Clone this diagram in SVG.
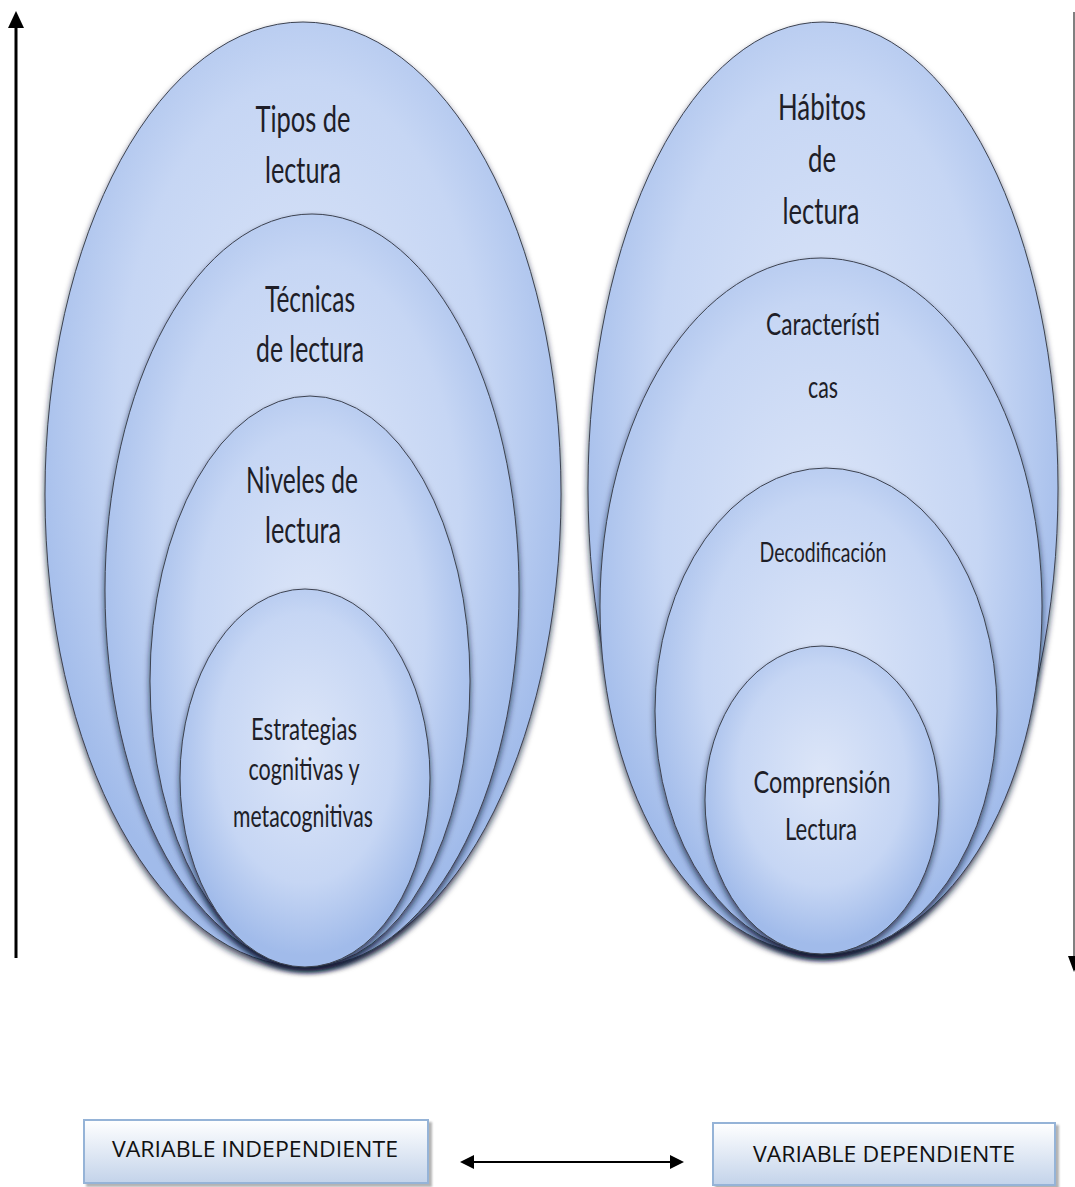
<svg xmlns="http://www.w3.org/2000/svg" width="1075" height="1187" viewBox="0 0 1075 1187">
<defs>
<radialGradient id="eg" cx="50%" cy="42%" r="55%">
<stop offset="0" stop-color="#dde6f8"/>
<stop offset="0.65" stop-color="#c6d6f4"/>
<stop offset="1" stop-color="#a1bbea"/>
</radialGradient>
<linearGradient id="bg" x1="0" y1="0" x2="0" y2="1">
<stop offset="0" stop-color="#ffffff"/>
<stop offset="1" stop-color="#c3d3ea"/>
</linearGradient>
<filter id="sh" x="-10%" y="-10%" width="120%" height="125%">
<feDropShadow dx="0" dy="4" stdDeviation="3" flood-color="#101c38" flood-opacity="0.75"/>
</filter>
<filter id="bsh" x="-5%" y="-10%" width="110%" height="130%">
<feDropShadow dx="3" dy="3" stdDeviation="1" flood-color="#808080" flood-opacity="0.6"/>
</filter>
</defs>
<style>
.ell{fill:url(#eg);stroke:#3c4250;stroke-width:1;filter:url(#sh)}
.t{font-family:Lato,"Open Sans","Liberation Sans",sans-serif;fill:#1e1e28;text-anchor:middle}
.big{font-size:36px}
.mid{font-size:31px}
.sm{font-size:27px}
.box{fill:url(#bg);stroke:#95b3d7;stroke-width:2;filter:url(#bsh)}
.bt{font-family:"Open Sans",Lato,"Liberation Sans",sans-serif;font-size:21px;fill:#111;text-anchor:middle}
</style>

<g id="left-outer"><ellipse class="ell" cx="303" cy="494" rx="258" ry="472"/>
<text class="t big" x="303" y="132" textLength="95" lengthAdjust="spacingAndGlyphs">Tipos de</text>
<text class="t big" x="303" y="183" textLength="76" lengthAdjust="spacingAndGlyphs">lectura</text></g>
<g id="left-2"><ellipse class="ell" cx="312" cy="590" rx="207" ry="376"/>
<text class="t big" x="310" y="312" textLength="90" lengthAdjust="spacingAndGlyphs">Técnicas</text>
<text class="t big" x="310" y="362" textLength="108" lengthAdjust="spacingAndGlyphs">de lectura</text></g>
<g id="left-3"><ellipse class="ell" cx="310" cy="681" rx="160" ry="285"/>
<text class="t big" x="302" y="493" textLength="112" lengthAdjust="spacingAndGlyphs">Niveles de</text>
<text class="t big" x="303" y="543" textLength="76" lengthAdjust="spacingAndGlyphs">lectura</text></g>
<g id="left-4"><ellipse class="ell" cx="305" cy="778" rx="125" ry="189"/>
<text class="t mid" x="304" y="740" textLength="106" lengthAdjust="spacingAndGlyphs">Estrategias</text>
<text class="t mid" x="304" y="780" textLength="111" lengthAdjust="spacingAndGlyphs">cognitivas y</text>
<text class="t mid" x="303" y="827" textLength="140" lengthAdjust="spacingAndGlyphs">metacognitivas</text></g>

<g id="right-outer"><ellipse class="ell" cx="823" cy="488" rx="235" ry="466"/>
<text class="t big" x="822" y="120" textLength="88" lengthAdjust="spacingAndGlyphs">Hábitos</text>
<text class="t big" x="822" y="172" textLength="28" lengthAdjust="spacingAndGlyphs">de</text>
<text class="t big" x="821" y="224" textLength="77" lengthAdjust="spacingAndGlyphs">lectura</text></g>
<g id="right-2"><ellipse class="ell" cx="821" cy="606" rx="221" ry="348"/>
<text class="t mid" x="823" y="335" textLength="114" lengthAdjust="spacingAndGlyphs">Característi</text>
<text class="t mid" x="823" y="398" textLength="30" lengthAdjust="spacingAndGlyphs">cas</text></g>
<g id="right-3"><ellipse class="ell" cx="826" cy="711" rx="171" ry="243"/>
<text class="t sm" x="823" y="562" textLength="127" lengthAdjust="spacingAndGlyphs">Decodificación</text></g>
<g id="right-4"><ellipse class="ell" cx="822" cy="800" rx="117" ry="154"/>
<text class="t mid" x="822" y="793" textLength="137" lengthAdjust="spacingAndGlyphs">Comprensión</text>
<text class="t mid" x="821" y="840" textLength="72" lengthAdjust="spacingAndGlyphs">Lectura</text></g>

<g id="box-independiente"><rect class="box" x="84" y="1120" width="344" height="63"/>
<text class="bt" x="255" y="1157" textLength="286" lengthAdjust="spacingAndGlyphs">VARIABLE INDEPENDIENTE</text></g>
<g id="box-dependiente"><rect class="box" x="713" y="1123" width="342" height="62"/>
<text class="bt" x="884" y="1162" textLength="262" lengthAdjust="spacingAndGlyphs">VARIABLE DEPENDIENTE</text></g>

<g id="connectors">
<line x1="16" y1="958" x2="16" y2="26" stroke="#000" stroke-width="3"/>
<path d="M16,11 L8,28 L24,28 Z" fill="#000"/>
<line x1="1074" y1="12" x2="1074" y2="958" stroke="#808080" stroke-width="2"/>
<path d="M1068,956 L1080,956 L1074,972 Z" fill="#000"/>
<line x1="472" y1="1162" x2="672" y2="1162" stroke="#000" stroke-width="2"/>
<path d="M460,1162 L474,1155 L474,1169 Z" fill="#000"/>
<path d="M684,1162 L670,1155 L670,1169 Z" fill="#000"/>
</g>
</svg>
